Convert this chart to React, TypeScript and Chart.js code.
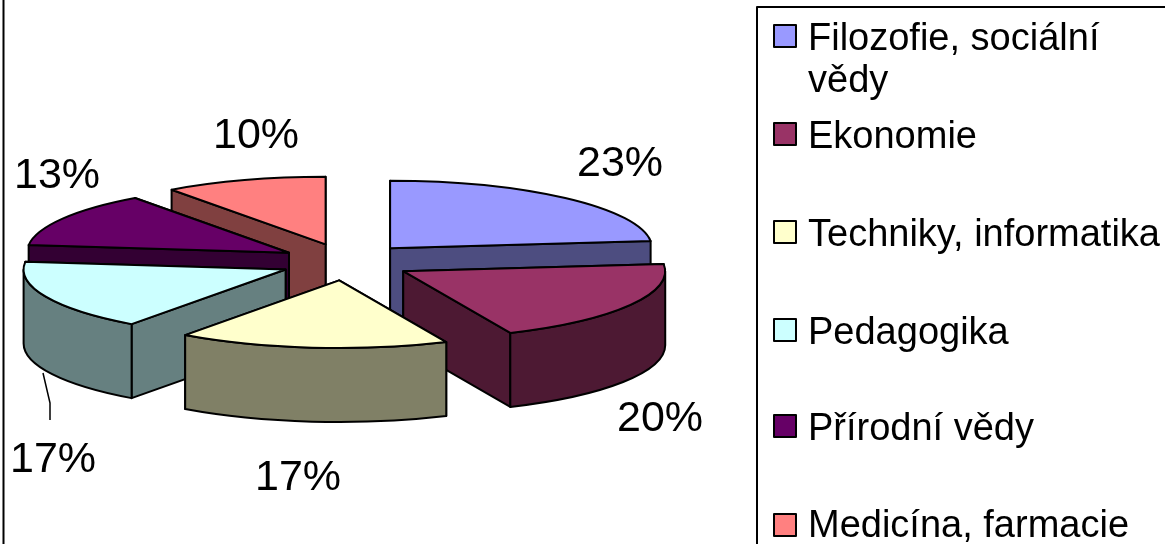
import React, { useEffect, useRef } from "react";
import { Chart, registerables } from "chart.js";

Chart.register(...registerables);

const categories = [
  "Filozofie, sociální vědy",
  "Ekonomie",
  "Techniky, informatika",
  "Pedagogika",
  "Přírodní vědy",
  "Medicína, farmacie",
];
const shares = [23.3, 20.0, 16.7, 16.8, 13.2, 10.0];
const topColors = ["#9999FF", "#993366", "#FFFFCC", "#CCFFFF", "#660066", "#FF8080"];
const wallColors = ["#4D4D80", "#4D1933", "#808066", "#668080", "#330033", "#804040"];

// percent label anchors: left x, baseline y
const percentAnchors = [
  [577, 176],
  [617, 431],
  [255, 490],
  [10, 472],
  [14, 188],
  [213, 148],
];
// legend rows: swatch top, then one baseline per text line
const legendRows: { top: number; lines: [string, number][] }[] = [
  { top: 25, lines: [["Filozofie, sociální", 50], ["vědy", 92]] },
  { top: 123, lines: [["Ekonomie", 148]] },
  { top: 221, lines: [["Techniky, informatika", 246]] },
  { top: 319, lines: [["Pedagogika", 344]] },
  { top: 415, lines: [["Přírodní vědy", 440]] },
  { top: 514, lines: [["Medicína, farmacie", 537]] },
];

const SQUASH = 0.258;
const EXPLODE_X = 66;
const EXPLODE_Y = 18.5;
const DEPTH = 74;
const LABEL_FONT = '43px "Liberation Sans", Arial, sans-serif';
const LEGEND_FONT = '38px "Liberation Sans", Arial, sans-serif';

const pie3d = {
  id: "pie3d",
  beforeDatasetsDraw(chart: any) {
    const ctx: CanvasRenderingContext2D = chart.ctx;
    const arcs = chart.getDatasetMeta(0).data as any[];
    ctx.save();
    ctx.fillStyle = "#fff";
    ctx.fillRect(0, 0, chart.width, chart.height);
    ctx.strokeStyle = "#000";
    ctx.lineWidth = 2;
    ctx.lineJoin = "round";

    const order = arcs
      .map((_, i) => i)
      .sort((a, b) => {
        const m = (i: number) => (arcs[i].startAngle + arcs[i].endAngle) / 2;
        return Math.sin(m(a)) - Math.sin(m(b));
      });

    for (const i of order) {
      const arc = arcs[i];
      const s = arc.startAngle;
      const e = arc.endAngle;
      const mid = (s + e) / 2;
      const rx = arc.outerRadius;
      const ry = rx * SQUASH;
      const ox = arc.x + EXPLODE_X * Math.cos(mid);
      const oy = arc.y + EXPLODE_Y * Math.sin(mid);
      const px = (t: number) => ox + rx * Math.cos(t);
      const py = (t: number) => oy + ry * Math.sin(t);

      const radialWall = (t: number) => {
        ctx.beginPath();
        ctx.moveTo(ox, oy);
        ctx.lineTo(px(t), py(t));
        ctx.lineTo(px(t), py(t) + DEPTH);
        ctx.lineTo(ox, oy + DEPTH);
        ctx.closePath();
        ctx.fillStyle = wallColors[i];
        ctx.fill();
        ctx.stroke();
      };
      const edges = py(s) < py(e) ? [s, e] : [e, s];
      edges.forEach(radialWall);

      const a = Math.max(s, 0);
      const b = Math.min(e, Math.PI);
      if (b > a) {
        ctx.beginPath();
        ctx.ellipse(ox, oy, rx, ry, 0, a, b);
        ctx.ellipse(ox, oy + DEPTH, rx, ry, 0, b, a, true);
        ctx.closePath();
        ctx.fillStyle = wallColors[i];
        ctx.fill();
        ctx.stroke();
      }

      ctx.beginPath();
      ctx.moveTo(ox, oy);
      ctx.ellipse(ox, oy, rx, ry, 0, s, e);
      ctx.closePath();
      ctx.fillStyle = topColors[i];
      ctx.fill();
      ctx.stroke();
    }

    // leader line for the Pedagogika label
    ctx.lineWidth = 1.5;
    ctx.beginPath();
    ctx.moveTo(43, 373);
    ctx.lineTo(50, 403);
    ctx.lineTo(50, 420);
    ctx.stroke();

    // chart frame and legend frame
    ctx.lineWidth = 2;
    ctx.beginPath();
    ctx.moveTo(3.5, -2);
    ctx.lineTo(3.5, 546);
    ctx.moveTo(757, 548);
    ctx.lineTo(757, 7);
    ctx.lineTo(1170, 7);
    ctx.stroke();

    // percent labels
    ctx.font = LABEL_FONT;
    ctx.textAlign = "left";
    ctx.textBaseline = "alphabetic";
    ctx.fillStyle = "#000";
    const total = shares.reduce((p, v) => p + v, 0);
    shares.forEach((v, i) => {
      const [x, y] = percentAnchors[i];
      ctx.fillText(`${Math.round((v / total) * 100)}%`, x, y);
    });

    // legend
    ctx.font = LEGEND_FONT;
    legendRows.forEach((row, i) => {
      ctx.fillStyle = topColors[i];
      ctx.fillRect(774, row.top, 22, 22);
      ctx.strokeRect(774, row.top, 22, 22);
      ctx.fillStyle = "#000";
      row.lines.forEach(([text, y]) => ctx.fillText(text, 808, y));
    });
    ctx.restore();
    return false;
  },
};

export default function App() {
  const ref = useRef<HTMLCanvasElement>(null);
  useEffect(() => {
    document.body.style.margin = "0";
    const chart = new Chart(ref.current!, {
      type: "pie",
      data: {
        labels: categories,
        datasets: [{ data: shares, backgroundColor: topColors, borderWidth: 0 }],
      },
      options: {
        animation: false,
        responsive: false,
        events: [],
        layout: { padding: { left: 82, right: 555, top: -4, bottom: 20 } },
        plugins: { legend: { display: false }, tooltip: { enabled: false } },
      },
      plugins: [pie3d],
    } as any);
    return () => chart.destroy();
  }, []);
  return (
    <canvas
      ref={ref}
      width={1165}
      height={544}
      style={{ display: "block", width: 1165, height: 544 }}
    />
  );
}
